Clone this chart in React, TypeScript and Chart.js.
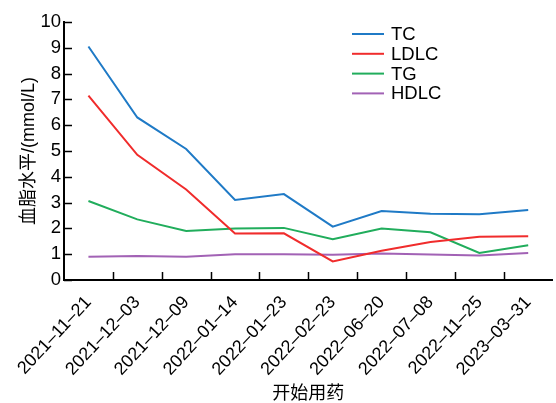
import React, { useEffect, useRef } from "react";
import { Chart, registerables } from "chart.js";

Chart.register(...registerables);

// Visit dates (x categories)
const dates = [
  "2021–11–21",
  "2021–12–03",
  "2021–12–09",
  "2022–01–14",
  "2022–01–23",
  "2022–02–23",
  "2022–06–20",
  "2022–07–08",
  "2022–11–25",
  "2023–03–31",
];

// Lipid levels, mmol/L
const tc = [9.05, 6.3, 5.08, 3.1, 3.33, 2.07, 2.67, 2.57, 2.55, 2.71];
const ldlc = [7.15, 4.85, 3.51, 1.8, 1.81, 0.72, 1.13, 1.47, 1.68, 1.7];
const tg = [3.06, 2.35, 1.9, 2.0, 2.02, 1.58, 2.0, 1.85, 1.05, 1.35];
const hdlc = [0.9, 0.93, 0.9, 1.0, 1.0, 0.98, 1.03, 0.99, 0.95, 1.05];

const seriesNames = ["TC", "LDLC", "TG", "HDLC"];
const seriesColors = ["#1f7ac6", "#f02c2c", "#21ad5c", "#a262b5"];

const yTicks = [0, 1, 2, 3, 4, 5, 6, 7, 8, 9, 10];

const FONT = "'Liberation Sans', Arial, 'Noto Sans CJK SC', sans-serif";

// Short tick marks drawn on the inner side of both axes
const innerTicks = {
  id: "innerTicks",
  afterDraw(chart: any) {
    const { ctx } = chart;
    const x = chart.scales.x;
    const y = chart.scales.y;
    const len = 8;
    ctx.save();
    ctx.strokeStyle = "#000";
    ctx.lineWidth = 1.5;
    const half = (x.getPixelForValue(1) - x.getPixelForValue(0)) / 2;
    ctx.beginPath();
    for (let i = 1; i < x.ticks.length; i++) {
      const px = Math.round(x.getPixelForTick(i) - half) + 0.5;
      ctx.moveTo(px, y.bottom);
      ctx.lineTo(px, y.bottom - len);
    }
    for (let i = 0; i < y.ticks.length; i++) {
      const py = Math.round(y.getPixelForTick(i)) + 0.5;
      ctx.moveTo(x.left, py);
      ctx.lineTo(x.left + len, py);
    }
    ctx.stroke();
    ctx.restore();
  },
};

// Legend placed inside the plot, upper right
const insideLegend = {
  id: "insideLegend",
  afterDraw(chart: any) {
    const { ctx } = chart;
    const x0 = 352;
    const x1 = 384;
    const tx = 391;
    const y0 = 34;
    const step = 19.8;
    ctx.save();
    ctx.font = `18.5px ${FONT}`;
    ctx.textBaseline = "middle";
    ctx.textAlign = "left";
    chart.data.datasets.forEach((ds: any, i: number) => {
      const yy = y0 + i * step;
      ctx.strokeStyle = ds.borderColor;
      ctx.lineWidth = 2;
      ctx.beginPath();
      ctx.moveTo(x0, yy);
      ctx.lineTo(x1, yy);
      ctx.stroke();
      ctx.fillStyle = "#000";
      ctx.fillText(ds.label, tx, yy + 1);
    });
    ctx.restore();
  },
};

export default function App() {
  const ref = useRef<HTMLCanvasElement>(null);

  useEffect(() => {
    document.body.style.margin = "0";
    const canvas = ref.current;
    if (!canvas) return;
    const values = [tc, ldlc, tg, hdlc];
    const chart = new Chart(canvas, {
      type: "line",
      data: {
        labels: dates,
        datasets: seriesNames.map((name, i) => ({
          label: name,
          data: values[i],
          borderColor: seriesColors[i],
          backgroundColor: seriesColors[i],
          borderWidth: 2,
          pointRadius: 0,
          tension: 0,
          fill: false,
        })),
      },
      options: {
        responsive: false,
        animation: false,
        layout: { padding: { top: 22, right: 0, left: 0, bottom: 0 } },
        plugins: {
          legend: { display: false },
          tooltip: { enabled: false },
        },
        scales: {
          x: {
            type: "category",
            offset: true,
            grid: { display: false, drawTicks: false, offset: true },
            border: { display: true, color: "#000", width: 2 },
            ticks: {
              autoSkip: false,
              maxRotation: 47,
              minRotation: 47,
              padding: 12,
              color: "#000",
              font: { family: FONT, size: 18 },
            },
            title: {
              display: true,
              text: "开始用药",
              color: "#000",
              font: { family: FONT, size: 18, lineHeight: 1.0 },
              padding: { top: 0, bottom: 0 },
            },
            afterFit(scale: any) {
              scale.height = 123;
            },
          },
          y: {
            min: 0,
            max: 10,
            grid: { display: false, drawTicks: false },
            border: { display: true, color: "#000", width: 2 },
            afterBuildTicks(scale: any) {
              scale.ticks = yTicks.map((v) => ({ value: v }));
            },
            ticks: {
              padding: 3,
              color: "#000",
              font: { family: FONT, size: 18.5 },
            },
            title: {
              display: true,
              text: "血脂水平/(mmol/L)",
              color: "#000",
              font: { family: FONT, size: 18 },
              padding: { top: 18, bottom: 0 },
            },
            afterFit(scale: any) {
              scale.width = 64;
            },
          },
        },
      },
      plugins: [innerTicks, insideLegend],
    });
    return () => chart.destroy();
  }, []);

  return (
    <div style={{ width: 556, height: 403 }}>
      <canvas ref={ref} width={556} height={403} style={{ display: "block" }} />
    </div>
  );
}
